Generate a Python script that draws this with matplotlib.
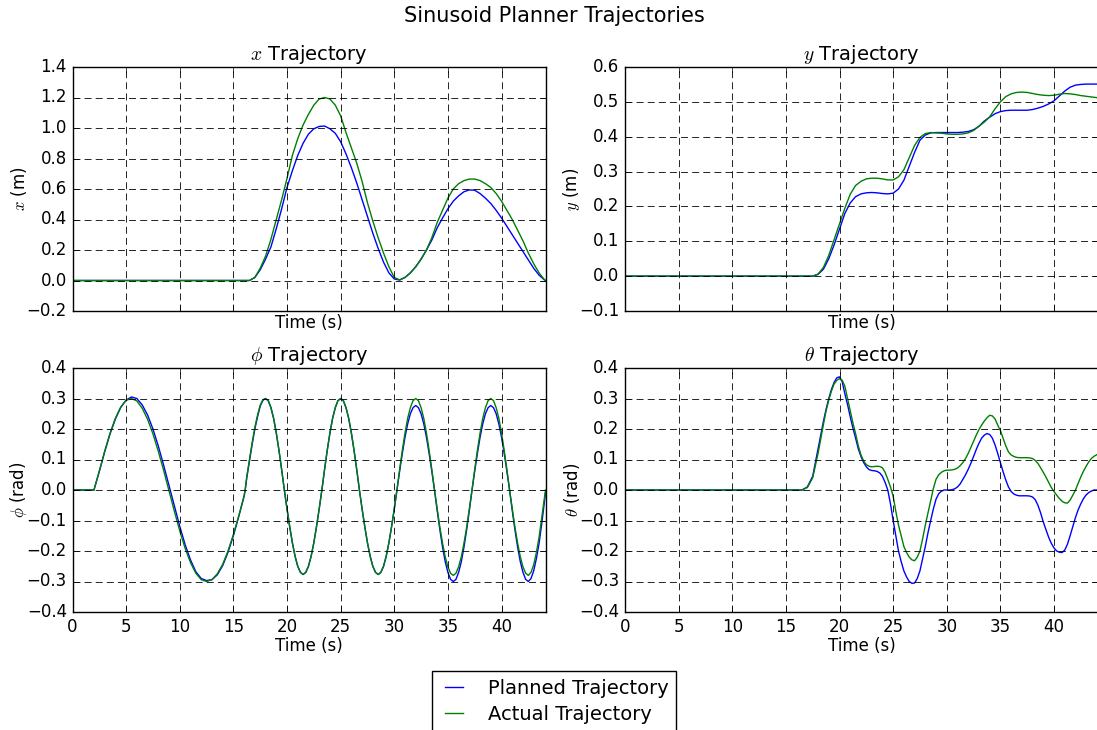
import numpy as np
import matplotlib
matplotlib.use("Agg")
import matplotlib.pyplot as plt

plt.style.use('classic')
plt.rcParams['figure.facecolor'] = 'white'
plt.rcParams['savefig.facecolor'] = 'white'

# ---------------- data ----------------
# x trajectory
t_x = np.concatenate([[0.0], np.arange(16.5, 44.01, 0.5), [44.1]])
x_planned = [0.0,
             0.0, 0.02, 0.07, 0.14, 0.22, 0.34, 0.47, 0.61, 0.72, 0.82, 0.90, 0.96, 0.995, 1.01, 1.013,
             0.995, 0.965, 0.91, 0.83, 0.74, 0.64, 0.53, 0.42, 0.31, 0.21, 0.12, 0.05, 0.01, 0.003,
             0.02, 0.05, 0.09, 0.14, 0.20, 0.265, 0.345, 0.41, 0.47, 0.52, 0.555, 0.582, 0.594, 0.592,
             0.57, 0.54, 0.505, 0.46, 0.41, 0.355, 0.30, 0.245, 0.19, 0.135, 0.08, 0.035, 0.004,
             0.0]
x_actual = [0.0,
            0.0, 0.02, 0.08, 0.16, 0.27, 0.40, 0.53, 0.67, 0.82, 0.93, 1.02, 1.09, 1.15, 1.19, 1.20,
            1.19, 1.15, 1.08, 0.97, 0.87, 0.77, 0.65, 0.51, 0.39, 0.28, 0.18, 0.09, 0.02, 0.004,
            0.02, 0.05, 0.09, 0.14, 0.20, 0.28, 0.38, 0.46, 0.54, 0.60, 0.635, 0.655, 0.665, 0.665,
            0.655, 0.635, 0.61, 0.57, 0.52, 0.46, 0.40, 0.33, 0.26, 0.18, 0.11, 0.05, 0.005,
            0.0]

# y trajectory
t_y = np.concatenate([[0.0], np.arange(17.5, 44.01, 0.5), [44.1]])
y_planned = [0.0,
             0.0, 0.005, 0.02, 0.05, 0.09, 0.135, 0.18, 0.21, 0.228, 0.236, 0.239, 0.240, 0.239, 0.237,
             0.236, 0.238, 0.25, 0.275, 0.315, 0.355, 0.39, 0.405, 0.411, 0.412, 0.412, 0.412, 0.412,
             0.412, 0.413, 0.415, 0.42, 0.43, 0.445, 0.456, 0.466, 0.472, 0.475, 0.476, 0.476, 0.476,
             0.476, 0.478, 0.482, 0.487, 0.494, 0.503, 0.517, 0.531, 0.542, 0.548, 0.55, 0.551, 0.551,
             0.551, 0.551]
y_actual = [0.0,
            0.0, 0.006, 0.025, 0.06, 0.105, 0.15, 0.195, 0.235, 0.26, 0.272, 0.279, 0.281, 0.281, 0.279,
            0.276, 0.276, 0.285, 0.305, 0.34, 0.375, 0.398, 0.409, 0.412, 0.411, 0.41, 0.408, 0.407,
            0.407, 0.408, 0.411, 0.418, 0.43, 0.442, 0.457, 0.48, 0.5, 0.515, 0.523, 0.527, 0.528,
            0.527, 0.524, 0.521, 0.519, 0.518, 0.519, 0.522, 0.524, 0.523, 0.521, 0.518, 0.516, 0.514,
            0.512, 0.512]

# phi trajectory
t_phi = np.concatenate([[0.0], np.arange(2.0, 16.01, 0.5), [16.1],
                        np.arange(16.25, 44.01, 0.25), [44.1]])
phi_planned = [0.0,
               # 2.0 .. 16.0 (step 0.5)
               0.0, 0.061, 0.125, 0.184, 0.233, 0.271, 0.295, 0.305, 0.300, 0.279, 0.246, 0.200,
               0.144, 0.081, 0.014, -0.054, -0.119, -0.179, -0.229, -0.268, -0.290, -0.297, -0.294,
               -0.278, -0.248, -0.204, -0.150, -0.087, -0.020,
               # 16.1
               0.0,
               # 16.25 .. 44.0 (step 0.25)
               0.04, 0.095, 0.15, 0.20, 0.24, 0.275, 0.294,
               0.300, 0.293, 0.270, 0.235, 0.187, 0.130, 0.067, 0.0,
               -0.062, -0.120, -0.173, -0.217, -0.250, -0.270, -0.277,
               -0.270, -0.250, -0.217, -0.173, -0.120, -0.062, 0.0,
               0.067, 0.130, 0.187, 0.235, 0.270, 0.293, 0.300,
               0.293, 0.270, 0.235, 0.187, 0.130, 0.067, 0.0,
               -0.062, -0.120, -0.173, -0.217, -0.250, -0.270, -0.277,
               -0.270, -0.250, -0.217, -0.173, -0.120, -0.062, 0.0,
               0.062, 0.120, 0.173, 0.217, 0.250, 0.270, 0.277,
               0.270, 0.250, 0.217, 0.173, 0.120, 0.062, 0.0,
               -0.067, -0.130, -0.187, -0.235, -0.270, -0.293, -0.300,
               -0.293, -0.270, -0.235, -0.187, -0.130, -0.067, 0.0,
               0.062, 0.120, 0.173, 0.217, 0.250, 0.270, 0.277,
               0.270, 0.250, 0.217, 0.173, 0.120, 0.062, 0.0,
               -0.067, -0.130, -0.187, -0.235, -0.270, -0.293, -0.300,
               -0.290, -0.265, -0.225, -0.175, -0.110, -0.040,
               # 44.1
               -0.01]
phi_actual = [0.0,
              0.0, 0.062, 0.127, 0.186, 0.235, 0.272, 0.294, 0.300, 0.292, 0.268, 0.232, 0.184,
              0.127, 0.064, -0.003, -0.070, -0.134, -0.191, -0.238, -0.273, -0.294, -0.300, -0.294,
              -0.275, -0.244, -0.200, -0.146, -0.085, -0.020,
              0.0,
              0.045, 0.10, 0.155, 0.205, 0.245, 0.278, 0.296,
              0.300, 0.293, 0.270, 0.235, 0.187, 0.130, 0.067, 0.0,
              -0.062, -0.120, -0.173, -0.217, -0.250, -0.270, -0.277,
              -0.270, -0.250, -0.217, -0.173, -0.120, -0.062, 0.0,
              0.067, 0.130, 0.187, 0.235, 0.270, 0.293, 0.300,
              0.293, 0.270, 0.235, 0.187, 0.130, 0.067, 0.0,
              -0.062, -0.120, -0.173, -0.217, -0.250, -0.270, -0.277,
              -0.270, -0.250, -0.217, -0.173, -0.120, -0.062, 0.0,
              0.067, 0.130, 0.187, 0.235, 0.270, 0.293, 0.300,
              0.293, 0.270, 0.235, 0.187, 0.130, 0.067, 0.0,
              -0.062, -0.122, -0.174, -0.219, -0.252, -0.273, -0.280,
              -0.273, -0.252, -0.219, -0.174, -0.122, -0.062, 0.0,
              0.067, 0.130, 0.187, 0.235, 0.270, 0.293, 0.300,
              0.293, 0.270, 0.235, 0.187, 0.130, 0.067, 0.0,
              -0.062, -0.122, -0.174, -0.219, -0.252, -0.273, -0.280,
              -0.270, -0.245, -0.205, -0.155, -0.090, -0.025,
              0.0]

# theta trajectory
t_theta = np.concatenate([[0.0], np.arange(16.5, 18.01, 0.5), np.arange(18.5, 44.01, 0.25), [44.1]])
theta_planned = [0.0,
                 # 16.5 .. 18.0
                 0.0, 0.01, 0.045, 0.135,
                 # 18.5 .. 28.5 (step 0.25)
                 0.225, 0.265, 0.30, 0.33, 0.353, 0.368, 0.371, 0.355, 0.315, 0.28, 0.24, 0.203,
                 0.17, 0.135, 0.11, 0.09, 0.076, 0.067, 0.064, 0.063, 0.061, 0.056, 0.045, 0.025,
                 0.0, -0.045, -0.1, -0.15, -0.2, -0.235, -0.265, -0.285, -0.3, -0.306, -0.305,
                 -0.29, -0.265, -0.225, -0.185, -0.14, -0.1, -0.062,
                 # 29.0 .. 44.0 (step 0.25)
                 -0.03, -0.012, -0.004, 0.0, 0.0, 0.0, 0.001, 0.004,
                 0.01, 0.02, 0.035, 0.05, 0.068, 0.088, 0.11, 0.133,
                 0.153, 0.17, 0.18, 0.185, 0.182, 0.17, 0.148, 0.12,
                 0.09, 0.06, 0.033, 0.01, -0.005, -0.013, -0.017, -0.019,
                 -0.019, -0.019, -0.019, -0.02, -0.023, -0.032, -0.05, -0.075,
                 -0.105, -0.13, -0.155, -0.175, -0.19, -0.2, -0.204, -0.205,
                 -0.197, -0.178, -0.15, -0.12, -0.09, -0.065, -0.045, -0.028,
                 -0.016, -0.008, -0.003, 0.0, 0.0,
                 # 44.1
                 0.0]
theta_actual = [0.0,
                0.0, 0.008, 0.04, 0.12,
                0.215, 0.26, 0.295, 0.325, 0.348, 0.36, 0.365, 0.36, 0.34, 0.30, 0.26, 0.22,
                0.185, 0.145, 0.115, 0.095, 0.083, 0.078, 0.076, 0.077, 0.078, 0.077, 0.073, 0.058,
                0.035, 0.01, -0.02, -0.07, -0.115, -0.15, -0.185, -0.205, -0.22, -0.229, -0.232,
                -0.22, -0.2, -0.16, -0.115, -0.075, -0.035, 0.005,
                0.035, 0.05, 0.058, 0.063, 0.065, 0.065, 0.066, 0.068,
                0.072, 0.08, 0.09, 0.103, 0.12, 0.14, 0.16, 0.18,
                0.198, 0.213, 0.226, 0.237, 0.245, 0.243, 0.233, 0.213,
                0.195, 0.17, 0.145, 0.125, 0.115, 0.11, 0.107, 0.106,
                0.106, 0.106, 0.106, 0.105, 0.103, 0.097, 0.087, 0.073,
                0.058, 0.042, 0.025, 0.008, -0.005, -0.017, -0.028, -0.037,
                -0.042, -0.043, -0.033, -0.017, 0.0, 0.022, 0.043, 0.062,
                0.078, 0.093, 0.104, 0.111, 0.116,
                0.118]

panels = [
    (t_x, x_planned, x_actual, r'$x$ Trajectory', r'$x$ (m)', (-0.2, 1.4), 0.2),
    (t_y, y_planned, y_actual, r'$y$ Trajectory', r'$y$ (m)', (-0.1, 0.6), 0.1),
    (t_phi, phi_planned, phi_actual, r'$\phi$ Trajectory', r'$\phi$ (rad)', (-0.4, 0.4), 0.1),
    (t_theta, theta_planned, theta_actual, r'$\theta$ Trajectory', r'$\theta$ (rad)', (-0.4, 0.4), 0.1),
]
x_max = 44.1
x_ticks = [0, 5, 10, 15, 20, 25, 30, 35, 40]

# ---------------- figure ----------------
W, H = 1097, 730
fig = plt.figure(figsize=(W / 100, H / 100), dpi=100)

def box(l, r, t, b):
    return [l / W, 1 - b / H, (r - l) / W, (b - t) / H]

rects = [box(72.5, 545.5, 67, 311), box(625, 1098, 67, 311),
         box(72.5, 545.5, 368, 612), box(625, 1098, 368, 612)]

lines = None
for i, (t, yp, ya, title, ylabel, ylim, step) in enumerate(panels):
    ax = fig.add_axes(rects[i])
    lp, = ax.plot(t, yp, color='b', lw=1.0)
    la, = ax.plot(t, ya, color='g', lw=1.0)
    lines = (lp, la)
    ax.set_xlim(0, x_max)
    ax.set_ylim(*ylim)
    ax.set_xticks(x_ticks)
    ax.set_yticks(np.round(np.arange(ylim[0], ylim[1] + step / 2, step), 2))
    ax.grid(True, color='k', linestyle=(0, (5, 3)), linewidth=0.6)
    ax.set_title(title, fontsize=14)
    ax.set_ylabel(ylabel, fontsize=12, labelpad=-2)
    ax.tick_params(labelsize=12)
    if i < 2:
        ax.tick_params(labelbottom=False)
        ax.set_xlabel('Time (s)', fontsize=12, labelpad=2)
    else:
        ax.set_xlabel('Time (s)', fontsize=12, labelpad=1)

fig.suptitle('Sinusoid Planner Trajectories', fontsize=15, x=554 / W, y=1 - 16 / H, va='center')

fig.legend(lines, ['Planned Trajectory', 'Actual Trajectory'],
           loc='upper center', bbox_to_anchor=(554 / W, 1 - 671 / H),
           borderaxespad=0, fontsize=14, handlelength=1.5, handletextpad=1.0,
           labelspacing=0.35, fancybox=False, frameon=True)

fig.savefig('out.png', dpi=100)
